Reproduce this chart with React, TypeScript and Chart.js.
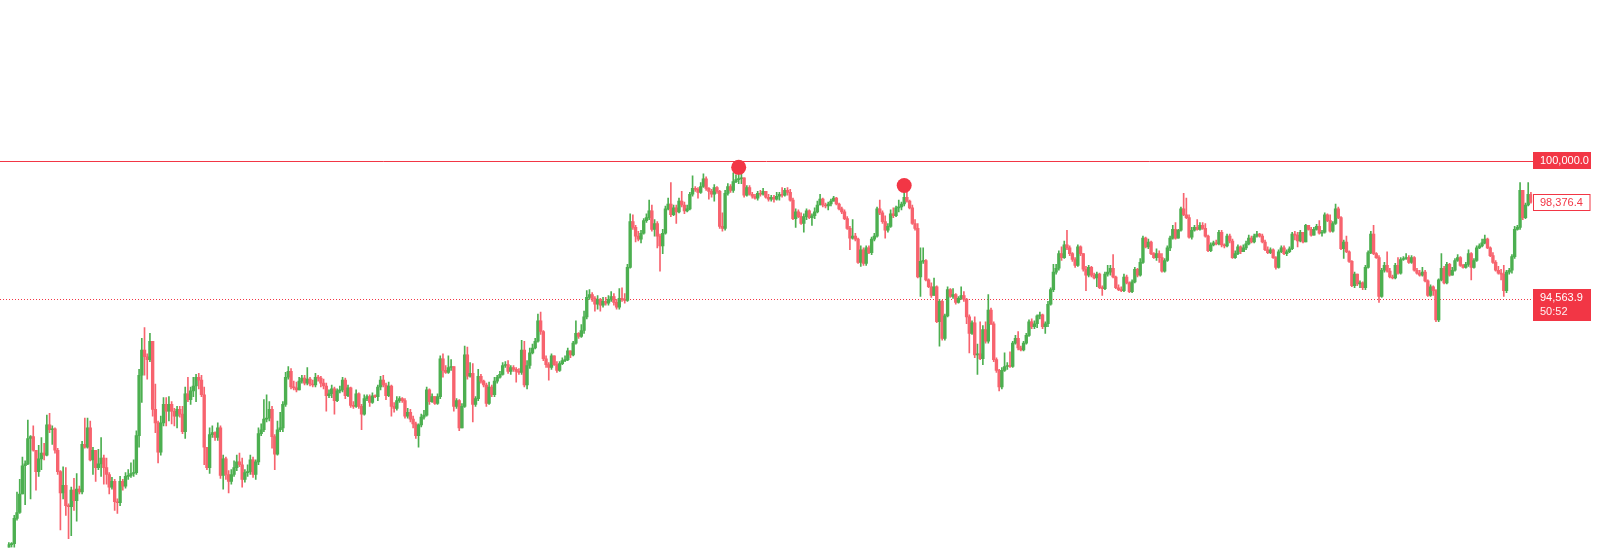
import React, { useEffect, useRef } from "react";
import { Chart, registerables } from "chart.js";

Chart.register(...registerables);

// ---- price data (one candle per entry; open of a candle = previous close) ----
const firstOpen = 84796;

const closes = [
  84949, 84987, 85979, 86208, 86933, 88039, 88116, 89108, 89184, 88649, 87810, 88306, 88535, 88459, 89642, 89450, 89489, 88649, 87810, 86971, 87276, 86475, 86437, 87085, 86666, 87123, 87009, 88879, 88764, 89527, 88268, 88649, 87963, 88116, 88345, 87963,
  87696, 87200, 87429, 86628, 86590, 87429, 87238, 87620, 87658, 87734, 87772, 89222, 91587, 92579, 92312, 92198, 92923, 90252, 89718, 88573, 89718, 90443, 90175, 90443, 90175, 89985, 90252, 90061, 89374, 90862, 90634, 90976, 91167, 91511, 91397, 90824, 88764, 87963,
  89260, 89336, 89146, 89527, 87658, 88306, 87696, 87429, 87696, 87963, 88192, 88077, 87505, 87772, 87810, 88268, 87696, 88192, 89298, 89450, 89870, 89909, 90252, 89184, 88497, 89450, 89527, 90443, 91511, 91740, 91129, 91091, 91015, 91358, 91473, 91282, 91435, 91244, 91206, 91511, 91473, 91282, 91167, 90786, 90862, 91053, 90595, 90976, 91015, 91397, 90786, 91091, 90405, 90366, 90862, 90366, 90061, 90672, 90748, 90519, 90786, 90748, 91129, 91397, 91206, 90786, 91167,
  90366, 90290, 90595, 90672, 90595, 89985, 90137, 89870, 89680, 89222, 89642, 89947, 90023, 91015, 90557, 90748, 90481, 90748, 92236, 91778, 91701, 91892, 91930, 90366, 90595, 89527, 90366, 92388, 91549, 91663, 90443, 90672, 91549, 91358, 91206, 90481, 91129, 90824, 91358, 91511, 91625, 91969, 92007, 91740, 91892, 91816, 91740, 91701, 92579, 91206, 91969, 92465, 92655, 92923, 93724, 93304, 92236, 92007, 91892, 92350, 92007, 91778, 92045, 92160, 92198, 92541, 92388, 92846, 93227, 93113, 93342,
  93876, 94639, 94754, 94601, 94372, 94563, 94334, 94487, 94410, 94563, 94677, 94448, 94258, 94601, 94563, 94525, 95821, 97615, 97386, 97043, 96928, 97157, 97653, 97768, 98035, 97310, 97539, 97043, 96661, 97157, 98111, 98302, 97882, 98149, 97997, 98416, 98264, 98035, 98111, 98684, 98913, 98874, 98760, 98989, 99294, 98913, 98798, 98684, 98951, 98798, 97424, 97348, 98722, 98989, 98836, 99179, 99256, 99294, 99332, 98645, 98951, 98684, 98607, 98531, 98722, 98684,
  98798, 98569, 98493, 98569, 98493, 98607, 98684, 98645, 98836, 98760, 98455, 97729, 97997, 97806, 97539, 97806, 98035, 97768, 97844, 97997, 98264, 98493, 98264, 98226, 98302, 98416, 98531, 98302, 98111, 97997, 97729, 97348, 96966, 97043, 96928, 96012, 96509, 95974, 96585, 96394, 96928, 97043, 98111, 97958, 97615, 97272, 97424, 97920, 97844, 98149, 98187, 98302, 98569, 98416, 98149, 97539, 97348, 95440, 96051, 96089, 95326, 95059, 94716, 95059, 93686, 94487, 93037, 93914, 94944, 94677,
  94754, 94448, 94601, 94716, 94563, 93876, 93227, 93648, 92388, 92426, 92236, 93380, 92923, 94143, 93609, 92198, 91778, 91129, 91778, 91930, 91969, 91930, 92846, 93037, 92655, 92579, 92846, 93151, 93686, 93495, 93609, 93914, 93953, 93495, 93609, 94372, 94944, 95631, 95783, 96356, 96203, 96699, 96585, 96356, 96127, 95898, 96623, 96356, 95745, 95516, 95821, 95516, 95402, 95555, 95020, 94982, 95555, 95631, 95783, 95440, 95020, 94944, 94906, 95440, 95211, 94868, 95249, 95745, 95516,
  96012, 96966, 96623, 96814, 96356, 96203, 96356, 96203, 95669, 96089, 96585, 96966, 97310, 96966, 97272, 98111, 97882, 97768, 97005, 97272, 97386, 97310, 97462, 97348, 97043, 96470, 96699, 96776, 96737, 97196, 96699, 96661, 97043, 96852, 96203, 96356, 96623, 96432, 96585, 96737, 96966, 96814, 97043, 97119, 97043, 96814, 96509, 96394, 96509, 96203, 95821, 96432, 96585, 96356, 96432, 96547, 97119, 97081, 96852, 97196, 96814, 97462, 97310, 97081, 97310, 97424, 97157, 97196, 97882, 97653,
  97234, 97539, 98111, 97768, 96547, 96814, 96432, 96051, 95097, 95555, 95173, 95211, 95020, 95821, 96394, 97119, 96356, 96203, 94677, 95707, 95898, 95669, 95440, 95402, 95898, 95593, 96127, 96165, 96203, 96012, 96203, 95707, 95593, 95516, 95631, 95288, 94716, 95059, 94906, 93762, 95326, 95783, 95211, 95936, 95516, 95707, 96089, 96203, 95898, 95821, 95936, 96356, 95821, 96089, 96585, 96661, 96776, 96928, 96585, 96280, 96012, 95707, 95593, 95555, 94906, 95631, 95707, 96241, 97310, 97386, 98836, 97768, 98264, 98684, 98376.4,
];

const highs = [
  85025, 85025, 86094, 87009, 87505, 88383, 88230, 89832, 89222, 89603, 88649, 88840, 89146, 88917, 90023, 90099, 89603, 89527, 88726, 87848, 88001, 87963, 86551, 87200, 87543, 87734, 87238, 88993, 89909, 89909, 89794, 88764, 88649, 88687, 89146, 88459,
  88345, 87772, 87582, 87505, 86742, 87620, 87505, 87772, 87886, 88154, 88268, 89412, 91816, 93037, 93456, 92426, 93227, 92923, 91244, 89794, 89985, 90710, 90710, 90748, 90557, 90290, 90366, 90366, 90366, 91129, 91511, 91129, 91511, 91625, 91663, 91587, 91129, 88764,
  89527, 89603, 89374, 89718, 89603, 88459, 88383, 87848, 87886, 88230, 88459, 88535, 88345, 87886, 88077, 88459, 88383, 88268, 89527, 89680, 90634, 90824, 90557, 90366, 89260, 89794, 90137, 90557, 91701, 91930, 91854, 91358, 91320, 91511, 91587, 91587, 91892, 91511, 91397, 91663, 91587, 91549, 91435, 91282, 91015, 91206, 91129, 91053, 91167, 91511, 91473, 91206, 91129, 90557, 91015, 90900, 90443, 90824, 90824, 90824, 90900, 90824, 91206, 91549, 91587, 91282, 91320,
  91206, 90519, 90748, 90748, 90710, 90672, 90290, 90252, 89985, 89756, 89680, 90061, 90214, 91129, 91053, 90862, 90748, 90862, 92350, 92426, 91969, 92350, 92198, 91930, 90672, 90634, 90481, 92732, 92694, 92083, 92045, 90748, 91816, 91625, 91397, 91282, 91320, 91206, 91511, 91587, 91740, 92083, 92121, 92160, 91969, 91969, 91892, 91854, 92961, 92923, 92160, 92655, 92808, 93037, 93991, 94067, 93342, 92350, 92083, 92426, 92350, 92121, 92121, 92274, 92350, 92655, 92541, 92923, 93724, 93265, 93571,
  94105, 94906, 94944, 94830, 94677, 94716, 94601, 94639, 94639, 94716, 94868, 94792, 94563, 94982, 95020, 94792, 95936, 97920, 97882, 97462, 97234, 97272, 97729, 97920, 98455, 98264, 97692, 97615, 97119, 97310, 98226, 98531, 99141, 98264, 98264, 98531, 98798, 98378, 98264, 98760, 99409, 98989, 98951, 99141, 99485, 99371, 98951, 98874, 99065, 98989, 98836, 97958, 98836, 99103, 99065, 99523, 99447, 99523, 99599, 99332, 99027, 99027, 98760, 98684, 98798, 98836,
  98913, 98798, 98684, 98645, 98645, 98760, 98760, 98951, 98913, 98951, 98874, 98531, 98111, 98073, 97958, 97920, 98111, 98073, 97920, 98149, 98416, 98684, 98531, 98340, 98378, 98493, 98607, 98569, 98340, 98187, 98073, 97806, 97424, 97692, 97157, 96966, 96661, 96585, 96661, 96661, 97005, 97157, 98187, 98455, 98035, 97844, 97539, 98073, 98149, 98226, 98455, 98378, 99027, 98760, 98455, 98264, 97692, 97539, 96585, 96585, 96127, 95364, 95211, 95402, 95097, 94563, 94525, 93991, 95059, 94982,
  94982, 94792, 94677, 95059, 94868, 94601, 93953, 93724, 93876, 92808, 93686, 93533, 93686, 94754, 94219, 93686, 92274, 91816, 91892, 92465, 92083, 92503, 92923, 93151, 93304, 92732, 92923, 93227, 93762, 93800, 93724, 93953, 94067, 93991, 93686, 94487, 95020, 95936, 95936, 96470, 96623, 96852, 97272, 96661, 96394, 96203, 96699, 96661, 96356, 95860, 95898, 95860, 95593, 95631, 95593, 95097, 95631, 95898, 95898, 96318, 95478, 95135, 95059, 95555, 95516, 95249, 95326, 95821, 95783,
  96165, 97043, 97005, 96928, 96852, 96394, 96547, 96470, 96356, 96165, 96661, 97043, 97462, 97577, 97310, 98187, 98722, 98531, 97882, 97386, 97462, 97692, 97577, 97577, 97539, 97081, 96776, 96852, 96890, 97272, 97272, 96737, 97119, 97119, 96928, 96470, 96699, 96661, 96699, 96852, 97081, 97043, 97119, 97234, 97157, 97119, 96890, 96623, 96585, 96547, 96241, 96509, 96661, 96661, 96509, 96623, 97196, 97234, 97196, 97272, 97196, 97501, 97462, 97386, 97386, 97501, 97653, 97272, 97958, 97920,
  97882, 97615, 98302, 98187, 97806, 96890, 97043, 96470, 96089, 95631, 95555, 95288, 95249, 95898, 96470, 97234, 97462, 96394, 96280, 95783, 96012, 96432, 95783, 95516, 95974, 96203, 96203, 96241, 96356, 96280, 96280, 96241, 95783, 95707, 95821, 95707, 95326, 95135, 95097, 94944, 95364, 96356, 95860, 96012, 95974, 95821, 96165, 96318, 96241, 95936, 96012, 96509, 96394, 96165, 96661, 96737, 96928, 97081, 96966, 96623, 96394, 96089, 95860, 95745, 95898, 95707, 95783, 96318, 97424, 97462, 99141, 98836, 98340, 99141, 98760,
];

const lows = [
  84796, 84834, 84796, 85903, 86170, 86933, 86513, 88077, 86742, 88611, 87085, 87620, 87886, 88268, 88421, 89336, 88879, 88535, 87696, 85521, 86742, 86094, 85178, 85293, 86284, 85865, 86933, 86933, 88726, 88726, 88230, 87696, 87429, 87886, 87620, 87314,
  87314, 86933, 87123, 86284, 86170, 86475, 87085, 87161, 87505, 87582, 87620, 87696, 88764, 90519, 91587, 91435, 92121, 89985, 89336, 88154, 88459, 89603, 89603, 89794, 89680, 89603, 89527, 89947, 89298, 89108, 90557, 90443, 90748, 90557, 91053, 90748, 88077, 87886,
  87734, 89146, 89031, 89031, 87543, 87123, 87505, 86971, 87314, 87620, 87848, 88001, 87200, 87391, 87620, 87696, 87582, 87505, 88077, 89222, 89374, 89756, 89794, 88726, 87886, 88459, 89374, 89374, 90366, 91435, 91053, 91015, 90938, 91015, 91282, 91206, 91206, 91167, 91129, 91129, 91358, 91129, 91053, 90175, 90710, 90710, 90061, 90557, 90900, 90938, 90672, 90748, 90328, 90290, 90328, 90290, 89450, 90023, 90595, 90366, 90481, 90710, 90595, 91015, 91129, 90634, 90748,
  89985, 90137, 90214, 90519, 90519, 89909, 89909, 89756, 89527, 89108, 88764, 89565, 89870, 89985, 90443, 90519, 90443, 90443, 90672, 91511, 91663, 91663, 91778, 90175, 90290, 89412, 89527, 90328, 91435, 91511, 89756, 90366, 90595, 91282, 91129, 90366, 90443, 90748, 90748, 91282, 91473, 91587, 91892, 91663, 91625, 91740, 91320, 91625, 91625, 91129, 91053, 91854, 92426, 92617, 92884, 93189, 92160, 91892, 91397, 91816, 91969, 91701, 91740, 92007, 92121, 92160, 92274, 92350, 92808, 93037, 93075,
  93227, 93800, 94563, 94487, 94105, 94181, 94105, 94258, 94334, 94334, 94487, 94334, 94181, 94181, 94487, 94410, 94487, 95783, 97310, 96814, 96852, 96776, 97119, 97577, 97692, 97234, 97043, 96585, 95669, 96356, 97119, 98073, 97806, 97844, 97539, 97958, 98187, 97920, 97997, 98073, 98607, 98798, 98531, 98722, 98951, 98836, 98493, 98569, 98416, 98722, 97348, 97234, 97272, 98645, 98760, 98760, 99141, 99103, 99103, 98569, 98607, 98645, 98531, 98493, 98455, 98607,
  98645, 98531, 98416, 98416, 98378, 98455, 98455, 98569, 98607, 98645, 98416, 97692, 97386, 97768, 97501, 97196, 97692, 97729, 97462, 97729, 97958, 98264, 98187, 98149, 98073, 98226, 98416, 98264, 98073, 97920, 97692, 97310, 96509, 96928, 96852, 95974, 95860, 95898, 95898, 96356, 96318, 96852, 97005, 97882, 97539, 96966, 97196, 97386, 97768, 97806, 97997, 98073, 98226, 98378, 98111, 97501, 97272, 95402, 94677, 95974, 95288, 95020, 94639, 94716, 93648, 92732, 92961, 92961, 93876, 94639,
  94601, 94372, 94410, 94563, 94487, 93609, 92465, 93189, 92274, 91625, 92198, 92007, 92846, 92846, 93571, 92121, 91701, 90976, 91053, 91740, 91816, 91892, 91892, 92808, 92579, 92541, 92541, 92808, 93113, 93418, 93418, 93456, 93800, 93418, 93227, 93495, 94334, 94868, 95555, 95707, 96089, 96165, 96509, 96280, 96051, 95821, 95860, 96280, 95669, 94906, 95440, 95440, 95364, 95059, 94982, 94716, 94944, 95478, 95516, 95402, 94982, 94906, 94868, 94868, 95173, 94830, 94830, 95211, 95440,
  95478, 95974, 96585, 96547, 96318, 96165, 96089, 96012, 95631, 95631, 96051, 96470, 96928, 96928, 96966, 97234, 97844, 97729, 96966, 96928, 97234, 97272, 97272, 97310, 97005, 96432, 96432, 96661, 96699, 96699, 96623, 96585, 96623, 96776, 96165, 96165, 96318, 96356, 96432, 96509, 96699, 96776, 96776, 97005, 97005, 96776, 96470, 96356, 96356, 96165, 95745, 95783, 96394, 96318, 96280, 96394, 96509, 96890, 96623, 96814, 96776, 96814, 97272, 97043, 97081, 97272, 97119, 97043, 97157, 97615,
  97196, 97196, 97501, 97729, 96509, 96165, 96394, 96012, 95059, 95020, 95097, 95020, 94944, 94944, 95783, 96356, 96318, 96165, 94448, 94639, 95631, 95631, 95402, 95364, 95364, 95555, 95555, 96089, 96127, 95974, 95974, 95669, 95555, 95478, 95478, 95249, 94677, 94677, 94716, 93686, 93686, 95288, 95173, 95173, 95478, 95516, 95669, 96051, 95860, 95783, 95783, 95860, 95326, 95783, 96051, 96547, 96623, 96737, 96547, 96241, 95974, 95669, 95555, 95326, 94677, 94830, 95555, 95593, 96165, 97272, 97310, 97692, 97729, 98226, 98340,
];

// reference levels and markers
const resistanceLevel = 100000.0;
const lastPrice = 98376.4;
const markPrice = 94563.9;
const countdownText = "50:52";
const markerIndices = [269, 330];
const markerPrices = [99740, 99027];

const Y_MIN = 84834;
const Y_MAX = 106008;

const GREEN = "#4CAF50";
const RED = "#F7636E";
const LINE_RED = "#F23645";

function fmt(v: number) {
  return v.toLocaleString("en-US", { minimumFractionDigits: 1, maximumFractionDigits: 1 });
}

export default function App() {
  const ref = useRef<HTMLCanvasElement>(null);

  useEffect(() => {
    document.body.style.margin = "0";
    const canvas = ref.current;
    if (!canvas) return;

    const opens = closes.map((c, i) => (i === 0 ? firstOpen : closes[i - 1]));
    const labels = closes.map((_, i) => String(i));
    const colors = closes.map((c, i) => (c >= opens[i] ? GREEN : RED));
    const markerData: (number | null)[] = closes.map(() => null);
    markerIndices.forEach((idx, k) => {
      markerData[idx] = markerPrices[k];
    });

    const FONT = '11px "Liberation Sans", Arial, sans-serif';

    const overlay = {
      id: "priceOverlay",
      beforeDatasetsDraw(chart: any) {
        const ctx = chart.ctx;
        const y = chart.scales.y;
        const right = 1533;
        ctx.save();
        const yr = Math.round(y.getPixelForValue(resistanceLevel)) + 0.5;
        ctx.strokeStyle = LINE_RED;
        ctx.lineWidth = 1;
        ctx.beginPath();
        ctx.moveTo(0, yr);
        ctx.lineTo(right, yr);
        ctx.stroke();
        const ym = Math.round(y.getPixelForValue(markPrice)) + 0.5;
        ctx.setLineDash([1, 2]);
        ctx.beginPath();
        ctx.moveTo(0, ym);
        ctx.lineTo(right, ym);
        ctx.stroke();
        ctx.restore();
      },
      afterDatasetsDraw(chart: any) {
        const ctx = chart.ctx;
        const y = chart.scales.y;
        const bx = 1533;
        const bw = 58;
        ctx.save();
        ctx.font = FONT;
        ctx.textBaseline = "middle";
        ctx.textAlign = "left";

        const yr = y.getPixelForValue(resistanceLevel);
        ctx.fillStyle = LINE_RED;
        ctx.fillRect(bx, Math.round(yr - 8.5), bw, 17);
        ctx.fillStyle = "#FFFFFF";
        ctx.fillText(fmt(resistanceLevel), 1540, yr + 0.5);

        const yl = y.getPixelForValue(lastPrice);
        const top = Math.round(yl - 8) + 0.5;
        ctx.fillStyle = "#FFFFFF";
        ctx.fillRect(bx, top, bw - 1, 16);
        ctx.strokeStyle = LINE_RED;
        ctx.lineWidth = 1;
        ctx.strokeRect(bx + 0.5, top, bw - 1.5, 16);
        ctx.fillStyle = LINE_RED;
        ctx.fillText(fmt(lastPrice), 1540, yl + 0.5);

        const ym = y.getPixelForValue(markPrice);
        ctx.fillStyle = LINE_RED;
        ctx.fillRect(bx, Math.round(ym - 10), bw, 32);
        ctx.fillStyle = "#FFFFFF";
        ctx.fillText(fmt(markPrice), 1540, ym - 1.5);
        ctx.fillStyle = "rgba(255,255,255,0.92)";
        ctx.fillText(countdownText, 1540, ym + 13);
        ctx.restore();
      },
    };

    const chart = new Chart(canvas, {
      type: "bar",
      data: {
        labels,
        datasets: [
          {
            type: "line",
            data: markerData,
            showLine: false,
            pointRadius: 7.5,
            pointBackgroundColor: LINE_RED,
            pointBorderWidth: 0,
            pointHoverRadius: 7.5,
            order: 1,
          } as any,
          {
            type: "bar",
            data: opens.map((o, i) => [o, closes[i]]),
            backgroundColor: colors,
            borderWidth: 0,
            categoryPercentage: 1,
            barPercentage: 1,
            minBarLength: 1,
            grouped: false,
            order: 2,
          } as any,
          {
            type: "bar",
            data: lows.map((l, i) => [l, highs[i]]),
            backgroundColor: colors,
            borderWidth: 0,
            barThickness: 1,
            grouped: false,
            order: 3,
          } as any,
        ],
      },
      options: {
        responsive: false,
        animation: false,
        events: [],
        layout: { padding: { left: 3.64, right: 65.72, top: 0, bottom: 0 } },
        plugins: {
          legend: { display: false },
          tooltip: { enabled: false },
          title: { display: false },
        },
        scales: {
          x: { display: false, offset: true, grid: { display: false } },
          y: { display: false, min: Y_MIN, max: Y_MAX, grid: { display: false } },
        },
      },
      plugins: [overlay],
    });

    return () => chart.destroy();
  }, []);

  return (
    <div style={{ position: "absolute", left: 0, top: 0, width: 1598, height: 555, background: "#FFFFFF" }}>
      <canvas ref={ref} width={1598} height={555} style={{ display: "block" }} />
    </div>
  );
}
